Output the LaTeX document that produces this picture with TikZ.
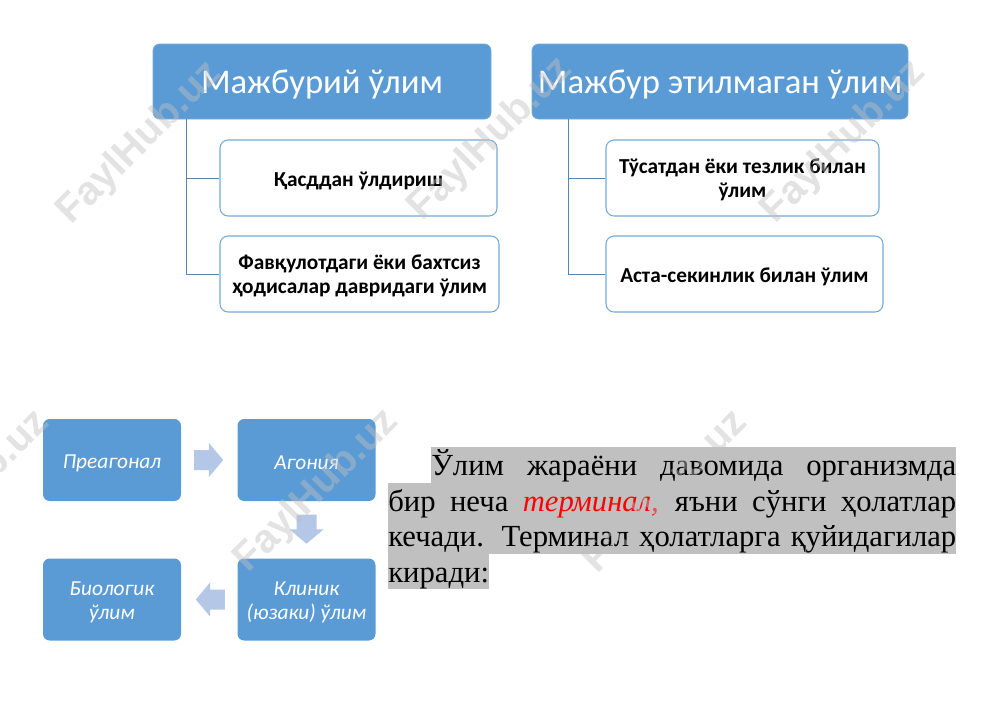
\documentclass[tikz,border=0pt]{standalone}
\usepackage{fontspec}
\usepackage{xcolor}
\setmainfont{Carlito}
\newfontfamily\blockfont{Liberation Serif}
\newfontfamily\markfont{Liberation Sans}
\usetikzlibrary{calc}
\usetikzlibrary{shapes,arrows}
\usetikzlibrary{positioning}
\definecolor{boxblue}{HTML}{5B9BD5}
\definecolor{linkblue}{HTML}{5A84AC}
\definecolor{arrowblue}{HTML}{B4C7E7}
\definecolor{blockgray}{HTML}{C0C0C0}
\definecolor{markgray}{HTML}{C0C0C0}
\def\px{0.75pt}
\tikzstyle{headnode}=[white, draw=boxblue!85!white, line width=0.6pt, shape=rectangle, rounded corners=5pt, fill=boxblue, minimum height=75*\px, inner sep=0pt, execute at begin node={\rule{0pt}{22pt}}, font=\fontsize{26}{30}\selectfont]
\tikzstyle{childnode}=[black, draw=boxblue!85!white, line width=0.8pt, shape=rectangle, rounded corners=6pt, fill=white, minimum height=76*\px, inner sep=0pt, align=center, execute at begin node={\rule{0pt}{15pt}}, font=\fontsize{16}{18}\selectfont\bfseries]
\tikzstyle{stagenode}=[white, shape=rectangle, rounded corners=5pt, fill=boxblue, minimum width=138*\px, minimum height=82*\px, inner sep=0pt, align=center, execute at begin node={\rule{0pt}{15pt}}, font=\fontsize{16}{17.6}\selectfont\itshape]
\tikzstyle{stagearrow}=[shape=single arrow, fill=arrowblue, minimum height=29*\px, single arrow head extend=5.4pt, single arrow head indent=0pt, single arrow tip angle=100, inner xsep=0pt, inner ysep=7.3pt]
\tikzstyle{linkline}=[draw=linkblue, line width=0.7pt]
\tikzstyle{blockline}=[black, fill=blockgray, shape=rectangle, inner sep=0pt, anchor=west, text height=28.5*\px, text depth=7*\px, font=\blockfont\fontsize{23}{26}\selectfont]
\tikzstyle{marktext}=[text=markgray, text opacity=0.45, rotate=45, inner sep=0pt, font=\markfont\fontsize{30}{32}\selectfont\bfseries]
\tikzstyle{twoline}=[text height=33pt, text depth=3.4pt]
\begin{document}
\begin{tikzpicture}[x=0.75pt,y=-0.75pt]
\useasboundingbox (0,0) rectangle (1000,707);

\node [headnode, minimum width=338*\px] (forced) at (322,81.5) {Мажбурий ўлим};
\node [headnode, minimum width=376*\px] (unforced) at (720,81.5) {Мажбур этилмаган ўлим};
\node [childnode, minimum width=277*\px] (murder) at (358.5,178) {Қасддан ўлдириш};
\node [childnode, twoline, minimum width=279*\px] (disaster) at (359.5,274) {Фавқулотдаги ёки бахтсиз\\ҳодисалар давридаги ўлим};
\node [childnode, twoline, minimum width=273*\px] (sudden) at (742.5,178) {Тўсатдан ёки тезлик билан\\ўлим};
\node [childnode, minimum width=277*\px] (gradual) at (744.5,274) {Аста-секинлик билан ўлим};

\coordinate (forcedroot) at (186,119);
\coordinate (unforcedroot) at (568,119);
\draw[linkline] (forcedroot) |- (murder.west);
\draw[linkline] (forcedroot) |- (disaster.west);
\draw[linkline] (unforcedroot) |- (sudden.west);
\draw[linkline] (unforcedroot) |- (gradual.west);

\node [stagenode] (preagonal) at (112,460) {Преагонал};
\node [stagenode] (agony) at (306.5,460) {Агония};
\node [stagenode, twoline] (clinical) at (306.5,599.5) {Клиник\\(юзаки) ўлим};
\node [stagenode, twoline] (biological) at (112,599.5) {Биологик\\ўлим};

\node [stagearrow] (arrowa) at (204.5,460) {};
\node [stagearrow, rotate=-90] (arrowb) at (306.5,525) {};
\node [stagearrow, rotate=180] (arrowc) at (214.5,599.5) {};

\node [blockline] (linea) at (431,465) {\makebox[393.75pt][s]{Ўлим жараёни давомида организмда}};
\node [blockline] (lineb) at (388,500.5) {\makebox[426pt][s]{бир неча \textcolor{red}{\textit{терминал,}} яъни сўнги ҳолатлар}};
\node [blockline] (linec) at (388,536) {\makebox[426pt][s]{кечади. Терминал ҳолатларга қуйидагилар}};
\node [blockline] (lined) at (388,571.5) {киради:};

\node [marktext] (marka) at (140,143) {FaylHub.uz};
\node [marktext] (markb) at (491,139) {FaylHub.uz};
\node [marktext] (markc) at (844,142) {FaylHub.uz};
\node [marktext] (markd) at (-32,492) {FaylHub.uz};
\node [marktext] (marke) at (317,491) {FaylHub.uz};
\node [marktext] (markf) at (666,492) {FaylHub.uz};
\end{tikzpicture}
\end{document}
